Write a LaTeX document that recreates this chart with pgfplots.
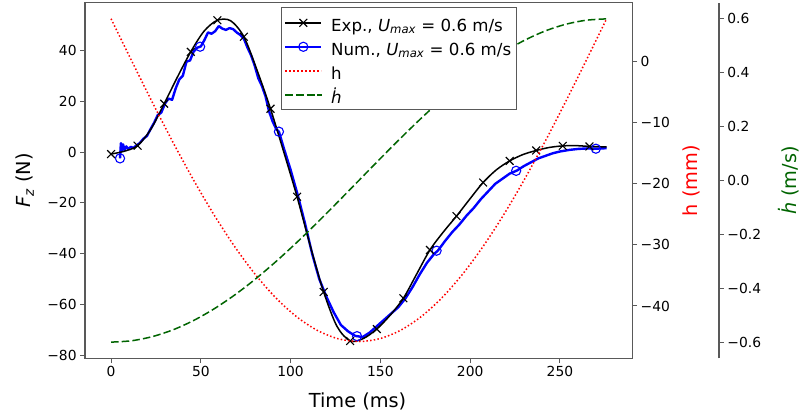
\documentclass[border=0pt]{standalone}
\usepackage{pgfplots}
\pgfplotsset{compat=1.18}
\usepackage{fontspec}
\setmainfont{DejaVu Sans}
\newcommand{\tickfont}{\fontsize{13.9}{16}\selectfont}
\newcommand{\labfont}{\fontsize{19.4}{22}\selectfont}
\newcommand{\legfont}{\fontsize{16.7}{19}\selectfont}
\newcommand{\lstrut}{\rule[-9.5bp]{0pt}{28bp}\hspace{7bp}}
\definecolor{dgreen}{RGB}{0,100,0}
\definecolor{spine}{gray}{0.35}
\pgfplotsset{
  base/.style={
    scale only axis, width=547.3bp, height=355.6bp,
    at={(0,0)}, anchor=south west,
    xmin=-14.5, xmax=290.3,
    tick align=outside,
    major tick length=4.9bp,
    tick style={spine, line width=1bp},
    axis line style={spine, line width=1.1bp},
    tick label style={font=\tickfont, text=black},
    label style={font=\labfont},
    /pgf/number format/assume math mode=true,
    clip=true,
  }
}
\begin{document}
\begin{tikzpicture}
\useasboundingbox (-85bp,-57.7bp) rectangle (715bp,358.3bp);
% ---------------- main axis: F_z ----------------
\begin{axis}[base,
  ymin=-81.1, ymax=58.7,
  tick pos=left,
  xtick={0,50,100,150,200,250}, xticklabels={0,50,100,150,200,250},
  ytick={-80,-60,-40,-20,0,20,40}, yticklabels={−80,−60,−40,−20,0,20,40},
  xlabel={Time (ms)},
  ylabel={\textit{F}\textsubscript{\textit{z}} (N)},
  xlabel style={at={(axis description cs:0.498,-0.122)}, anchor=center},
  ylabel style={at={(axis description cs:-0.1096,0.5)}, anchor=center},
]
% Num. (blue) line
\addplot[blue, line width=2.4bp, line join=round] coordinates {
(5.0,-2.5) (5.5,3.5) (6.0,0.5) (6.7,3.0) (7.5,0.8) (8.5,2.2) (9.5,1.2) (11,2.0) (12.5,1.6)
(14,2.5) (16,3.5) (18,5.2) (20,6.3) (22,9) (24,11.5) (26,14.5) (28,15.5) (30,19)
(32,21) (34,20.5) (36,25) (38,28.5) (40,30) (42,35.5) (44,36) (46,39.5) (48,41)
(50,41.5) (52,44) (54,47) (56,46.5) (58,47.5) (60,49.5) (62,48.5) (64,48) (66,48.7)
(68,48.3) (70,47) (72,46) (74,44.5) (76,41) (78,38) (80,34) (82,29) (84,26) (86,22)
(88,16) (90,12) (92,9) (93.5,8) (96,2) (100,-7) (104,-17) (108,-28) (112,-40)
(116,-50) (120,-57) (124,-63) (128,-68) (132,-70.5) (136,-72.3) (138,-72.5)
(140,-72.8) (144,-71) (148,-68.5) (152,-66) (156,-63.5) (160,-61) (164,-57.5)
(168,-53) (172,-48) (176,-43.5) (180,-40) (182,-38.8) (186,-35) (190,-31.5)
(194,-28.5) (198,-25) (202,-22) (206,-18.5) (210,-15.5) (214,-12.5) (218,-10.5)
(222,-8.5) (226,-7.3) (230,-5.5) (234,-4) (238,-2.5) (242,-1.5) (246,-0.5)
(250,0.2) (255,0.8) (260,1.2) (265,1.4) (270,1.3) (276,1.5)
};
% Num. markers
\addplot[blue, only marks, mark=o, mark size=4.6bp, mark options={line width=1.1bp}] coordinates {
(5,-2.5) (49.6,41.4) (93.5,8) (137,-72.4) (181.3,-38.8) (225.6,-7.4) (270,1.3)
};
% Exp. (black)
\addplot[black, line width=1.5bp, smooth, mark=x, mark repeat=2, mark phase=1,
  mark size=5.5bp, mark options={line width=1.1bp}] coordinates {
(0,-0.8) (7.4,0.3) (14.8,2.5) (22.2,9.0) (29.6,19.0) (37.0,29.5) (44.4,39.4)
(51.8,47.5) (59.2,51.8) (66.6,51.6) (74.0,45.3) (81.4,32.0) (88.8,17.0) (96.2,0.0)
(103.6,-17.6) (111.0,-37.0) (118.4,-55.0) (125.8,-68.5) (133.2,-74.3) (140.6,-73.3)
(148.0,-69.6) (155.4,-64.2) (162.8,-57.5) (170.2,-48.0) (177.6,-38.5) (185.0,-31.5)
(192.4,-25.2) (199.8,-18.5) (207.2,-12.0) (214.6,-7.0) (222.0,-3.5) (229.4,-1.0)
(236.8,0.6) (244.2,1.8) (251.6,2.4) (259.0,2.5) (266.4,2.2) (276,2.0)
};
\end{axis}
% ---------------- h axis ----------------
\begin{axis}[base,
  ymin=-48.54, ymax=9.52,
  axis x line=none, axis y line*=right,
  ytick={-40,-30,-20,-10,0}, yticklabels={−40,−30,−20,−10,0},
  ylabel={h (mm)},
  ylabel style={text=red, at={(axis description cs:1.1085,0.5)}, anchor=center},
]
\addplot[red, line width=1.5bp, dash pattern=on 1.5bp off 2.2bp, smooth] coordinates {
(0,6.9) (11.5,0.02) (23,-6.74) (34.5,-13.27) (46,-19.45) (57.5,-25.18) (69,-30.36)
(80.5,-34.91) (92,-38.74) (103.5,-41.79) (115,-44.00) (126.5,-45.35) (138,-45.8)
(149.5,-45.35) (161,-44.00) (172.5,-41.79) (184,-38.74) (195.5,-34.91) (207,-30.36)
(218.5,-25.18) (230,-19.45) (241.5,-13.27) (253,-6.74) (264.5,0.02) (276,6.9)
};
\end{axis}
% ---------------- hdot plot + legend ----------------
\begin{axis}[base,
  ymin=-0.66, ymax=0.66, hide axis,
  legend cell align=left,
  legend image code/.code={\draw[mark repeat=2,mark phase=2,#1] plot coordinates {(0bp,0bp) (18bp,0bp) (36bp,0bp)};},
  legend style={at={(axis description cs:0.358,0.987)}, anchor=north west,
    font=\legfont, draw=spine, line width=1bp, fill=white, inner sep=3bp},
]
\addlegendimage{black, line width=1.5bp, mark=x, mark size=5.5bp, mark options={line width=1.1bp}}
\addlegendentry{\lstrut Exp., \textit{U}\textsubscript{\textit{max}} = 0.6 m/s}
\addlegendimage{blue, line width=1.8bp, mark=o, mark size=4.6bp, mark options={line width=1.1bp}}
\addlegendentry{\lstrut Num., \textit{U}\textsubscript{\textit{max}} = 0.6 m/s}
\addlegendimage{color=red, draw=red, line width=1.8bp, dash pattern=on 1.8bp off 2.2bp}
\addlegendentry{\lstrut h}
\addplot[dgreen, line width=1.5bp, dash pattern=on 7.5bp off 3.2bp, smooth] coordinates {
(0,-0.6) (11.5,-0.5948) (23,-0.5795) (34.5,-0.5543) (46,-0.5196) (57.5,-0.4760)
(69,-0.4243) (80.5,-0.3653) (92,-0.3) (103.5,-0.2296) (115,-0.1553) (126.5,-0.0783)
(138,0) (149.5,0.0783) (161,0.1553) (172.5,0.2296) (184,0.3) (195.5,0.3653)
(207,0.4243) (218.5,0.4760) (230,0.5196) (241.5,0.5543) (253,0.5795) (264.5,0.5948)
(276,0.6)
};
\addlegendentry{\lstrut\textit{\.h}}
\end{axis}
% ---------------- hdot spine ----------------
\begin{axis}[base, at={(86.7bp,0)},
  ymin=-0.66, ymax=0.66,
  axis x line=none, axis y line*=right,
  ytick={-0.6,-0.4,-0.2,0,0.2,0.4,0.6},
  yticklabels={−0.6,−0.4,−0.2,0.0,0.2,0.4,0.6},
  ylabel={\textit{\.h} (m/s)},
  ylabel style={text=dgreen, at={(axis description cs:1.1278,0.5)}, anchor=center},
]
\end{axis}
\end{tikzpicture}
\end{document}
